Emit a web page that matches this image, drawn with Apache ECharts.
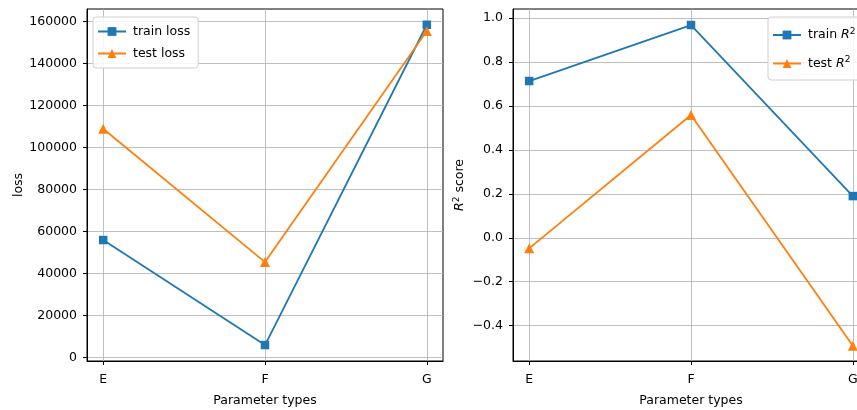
<!DOCTYPE html>
<html>
<head>
<meta charset="utf-8">
<script src="https://cdn.jsdelivr.net/npm/echarts@6/dist/echarts.min.js"></script>
<style>html,body{margin:0;padding:0;background:#fff;}#c{width:857px;height:410px;}</style>
</head>
<body>
<div id="c"></div>
<script>
const categories = ['E', 'F', 'G'];
const trainLoss = [56000, 6000, 158500];
const testLoss = [109000, 45500, 155500];
const trainR2 = [0.714, 0.969, 0.19];
const testR2 = [-0.048, 0.559, -0.492];
const lossTicks = [0, 20000, 40000, 60000, 80000, 100000, 120000, 140000, 160000];
const r2Ticks = [-0.4, -0.2, 0.0, 0.2, 0.4, 0.6, 0.8, 1.0];
const catIdx = [0, 1, 2];

const BLUE = '#1f77b4', ORANGE = '#ff7f0e';
const FONT = 'DejaVu Sans';
const FS = 12.5;
const toPts = (vals) => vals.map((v, i) => [i, v]);

function xAxisCfg(gi) {
  return {
    type: 'value', gridIndex: gi, min: -0.1, max: 2.1,
    name: 'Parameter types', nameLocation: 'middle', nameGap: 33,
    nameTextStyle: {color: '#000', fontSize: FS, fontFamily: FONT},
    axisLine: {show: true, onZero: false, lineStyle: {color: '#000', width: 1}},
    axisTick: {show: true, length: 4, lineStyle: {color: '#000'}, customValues: catIdx},
    axisLabel: {color: '#000', fontSize: FS, fontFamily: FONT, margin: 12, customValues: catIdx,
      formatter: (v) => categories[Math.round(v)]},
    splitLine: {show: true, lineStyle: {color: '#b0b0b0', width: 0.8}}
  };
}

const richSup = {
  i: {fontStyle: 'italic', fontSize: FS, fontFamily: FONT, color: '#000'},
  s: {fontSize: 9, fontFamily: FONT, color: '#000', padding: [0, 0, 7, 0]},
  n: {fontSize: FS, fontFamily: FONT, color: '#000'}
};

const gridBase = {top: 9, width: 356, height: 352, show: true, borderColor: '#000', borderWidth: 1,
  backgroundColor: 'transparent', outerBoundsMode: 'none', containLabel: false};

const option = {
  animation: false,
  backgroundColor: '#fff',
  textStyle: {fontFamily: FONT},
  grid: [
    Object.assign({left: 87}, gridBase),
    Object.assign({left: 513}, gridBase)
  ],
  xAxis: [xAxisCfg(0), xAxisCfg(1)],
  yAxis: [
    {
      type: 'value', gridIndex: 0, min: -1600, max: 166000,
      name: 'loss', nameLocation: 'middle', nameGap: 62,
      nameTextStyle: {color: '#000', fontSize: FS, fontFamily: FONT},
      axisLine: {show: true, onZero: false, lineStyle: {color: '#000', width: 1}},
      axisTick: {show: true, length: 4, lineStyle: {color: '#000'}, customValues: lossTicks},
      axisLabel: {color: '#000', fontSize: FS, fontFamily: FONT, margin: 10, customValues: lossTicks,
        formatter: (v) => String(Math.round(v))},
      splitLine: {show: true, lineStyle: {color: '#b0b0b0', width: 0.8}}
    },
    {
      type: 'value', gridIndex: 1, min: -0.561, max: 1.042,
      name: '{i|R}{s|2}{n| score}', nameLocation: 'middle', nameGap: 45,
      nameTextStyle: {color: '#000', fontSize: FS, fontFamily: FONT, rich: richSup},
      axisLine: {show: true, onZero: false, lineStyle: {color: '#000', width: 1}},
      axisTick: {show: true, length: 4, lineStyle: {color: '#000'}, customValues: r2Ticks},
      axisLabel: {color: '#000', fontSize: FS, fontFamily: FONT, margin: 10, customValues: r2Ticks,
        formatter: (v) => v.toFixed(1).replace('-', '\u2212')},
      splitLine: {show: true, lineStyle: {color: '#b0b0b0', width: 0.8}}
    }
  ],
  legend: [
    {
      data: ['train loss', 'test loss'], orient: 'vertical', left: 93, top: 17,
      padding: [8, 8, 8, 4], itemGap: 9, itemWidth: 28, itemHeight: 11,
      backgroundColor: 'rgba(255,255,255,0.85)', borderColor: '#d0d0d0', borderWidth: 1, borderRadius: 3,
      textStyle: {color: '#000', fontSize: FS, fontFamily: FONT, padding: [0, 0, 0, 2]}
    },
    {
      data: ['train R2', 'test R2'], orient: 'vertical', left: 768, top: 17,
      padding: [10, 8, 10, 4], itemGap: 14, itemWidth: 28, itemHeight: 11,
      backgroundColor: 'rgba(255,255,255,0.85)', borderColor: '#d0d0d0', borderWidth: 1, borderRadius: 3,
      formatter: (name) => name.replace(/^(\w+) R2$/, '{n|$1 }{i|R}{s|2}'),
      textStyle: {color: '#000', fontSize: FS, fontFamily: FONT, padding: [0, 0, 0, 2], rich: richSup}
    }
  ],
  series: [
    {name: 'train loss', type: 'line', xAxisIndex: 0, yAxisIndex: 0, data: toPts(trainLoss),
      symbol: 'rect', symbolSize: 8.5, lineStyle: {color: BLUE, width: 1.8}, itemStyle: {color: BLUE}, z: 3},
    {name: 'test loss', type: 'line', xAxisIndex: 0, yAxisIndex: 0, data: toPts(testLoss),
      symbol: 'triangle', symbolSize: 10, lineStyle: {color: ORANGE, width: 1.8}, itemStyle: {color: ORANGE}, z: 4},
    {name: 'train R2', type: 'line', xAxisIndex: 1, yAxisIndex: 1, data: toPts(trainR2),
      symbol: 'rect', symbolSize: 8.5, lineStyle: {color: BLUE, width: 1.8}, itemStyle: {color: BLUE}, z: 3},
    {name: 'test R2', type: 'line', xAxisIndex: 1, yAxisIndex: 1, data: toPts(testR2),
      symbol: 'triangle', symbolSize: 10, lineStyle: {color: ORANGE, width: 1.8}, itemStyle: {color: ORANGE}, z: 4}
  ]
};

const chart = echarts.init(document.getElementById('c'), null, {renderer: 'canvas'});
chart.setOption(option);
</script>
</body>
</html>
